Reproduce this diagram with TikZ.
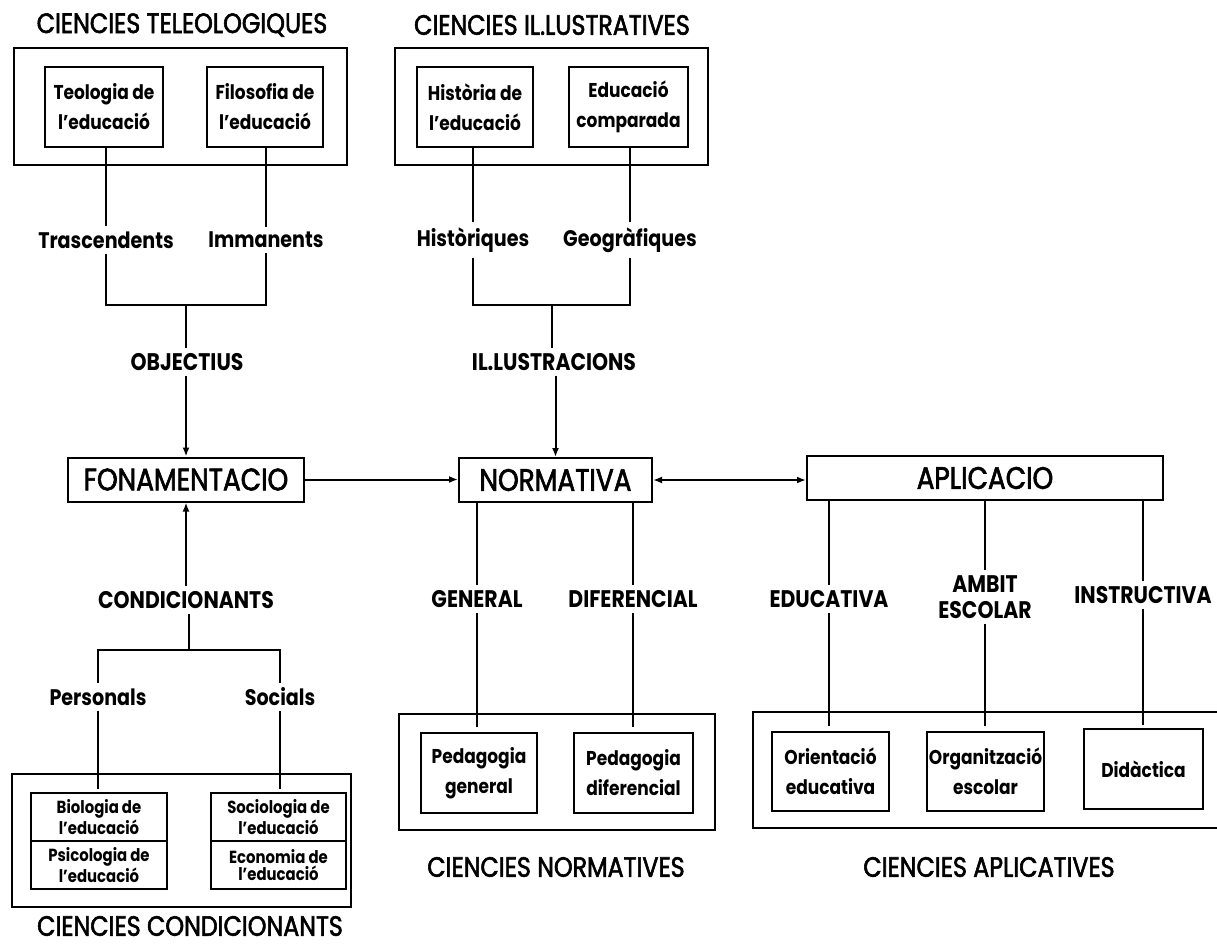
\documentclass[tikz,border=0pt]{standalone}
\usepackage{fontspec}
\setmainfont{Poppins}[FakeStretch=0.85]
\newfontfamily\medfont{Poppins}[FakeStretch=0.85,FakeBold=2]
\usetikzlibrary{arrows.meta}
\tikzset{
  ln/.style={line width=2pt},
  arr/.style={line width=2pt,-{Latex[length=9pt,width=7pt]}},
  darr/.style={line width=2pt,{Latex[length=9pt,width=7pt]}-{Latex[length=9pt,width=7pt]}},
  grp/.style={draw,line width=2.2pt,inner sep=0pt},
  ibox/.style={draw,line width=2pt,align=center,inner sep=0pt,font=\bfseries\fontsize{20}{30}\selectfont},
  sbox/.style={draw,line width=2pt,align=center,inner sep=0pt,minimum width=136pt,minimum height=48pt,font=\bfseries\fontsize{17.5}{17}\selectfont},
  title/.style={font=\medfont\fontsize{28}{30}\selectfont,inner sep=0pt},
  main/.style={draw,line width=2pt,inner sep=0pt,minimum height=44pt,font=\medfont\fontsize{31}{34}\selectfont},
  caplab/.style={font=\bfseries\fontsize{24}{26}\selectfont,inner sep=5pt,align=center},
  lowlab/.style={font=\bfseries\fontsize{22.5}{24}\selectfont,inner sep=5pt}
}
\begin{document}
\begin{tikzpicture}[x=1pt,y=-1pt]
\useasboundingbox (0,0) rectangle (1217,947);
% titles
\node[title] (t1) at (182,25) {CIENCIES TELEOLOGIQUES};
\node[title] (t2) at (552,25) {CIENCIES IL.LUSTRATIVES};
\node[title] (t3) at (190,926) {CIENCIES CONDICIONANTS};
\node[title] (t4) at (556,867) {CIENCIES NORMATIVES};
\node[title] (t5) at (989,867) {CIENCIES APLICATIVES};
% group boxes
\node[grp,minimum width=333pt,minimum height=117pt] (g1) at (180.5,106.5) {};
\node[grp,minimum width=313pt,minimum height=117pt] (g2) at (551.5,106.5) {};
\node[grp,minimum width=339pt,minimum height=133pt] (g3) at (181.5,840.5) {};
\node[grp,minimum width=316pt,minimum height=116pt] (g4) at (557,772) {};
\draw[line width=2.2pt] (1217,712) -- (753,712) -- (753,828) -- (1217,828);
% top inner boxes
\node[ibox,minimum width=118pt,minimum height=80pt] (teo) at (104,107) {Teologia de\\l'educació};
\node[ibox,minimum width=116pt,minimum height=80pt] (fil) at (265,107) {Filosofia de\\l'educació};
\node[ibox,minimum width=116pt,minimum height=80pt] (his) at (475,107) {Història de\\l'educació};
\node[ibox,minimum width=119pt,minimum height=80pt] (com) at (628.5,107) {Educació\\comparada};
% labels top
\node[lowlab] (tras) at (106,240) {Trascendents};
\node[lowlab] (imm) at (266,240) {Immanents};
\node[lowlab] (hist) at (473,240) {Històriques};
\node[lowlab] (geo) at (630,240) {Geogràfiques};
\coordinate (j1) at (186,305);
\coordinate (j2) at (551.5,305);
\node[caplab] (obj) at (187,362) {OBJECTIUS};
\node[caplab] (ill) at (554,362) {IL.LUSTRACIONS};
% main boxes
\node[main,minimum width=236pt] (fon) at (186,479.5) {FONAMENTACIO};
\node[main,minimum width=193pt] (norm) at (555.5,480) {NORMATIVA};
\node[main,minimum width=356pt] (apl) at (985,478) {APLICACIO};
% lower labels
\node[caplab] (cond) at (186,600) {CONDICIONANTS};
\coordinate (j3) at (189,650);
\node[lowlab] (pers) at (98,697) {Personals};
\node[lowlab] (soc) at (280,697) {Socials};
\node[caplab] (gen) at (477,599) {GENERAL};
\node[caplab] (dif) at (633,599) {DIFERENCIAL};
\node[caplab] (edu) at (829,599) {EDUCATIVA};
\node[caplab] (amb) at (985,597) {AMBIT\\ESCOLAR};
\node[caplab] (ins) at (1143,595) {INSTRUCTIVA};
% bottom inner boxes
\node[sbox] (bio) at (99,817) {Biologia de\\l'educació};
\node[sbox] (psi) at (99,865) {Psicologia de\\l'educació};
\node[sbox,minimum width=135pt] (soci) at (278.5,817) {Sociologia de\\l'educació};
\node[sbox,minimum width=135pt] (eco) at (278.5,865) {Economia de\\l'educació};
\node[ibox,minimum width=116pt,minimum height=80pt] (pg) at (479,773) {Pedagogia\\general};
\node[ibox,minimum width=119pt,minimum height=80pt] (pd) at (633.5,773) {Pedagogia\\diferencial};
\node[ibox,minimum width=117pt,minimum height=79pt] (ori) at (830.5,771.5) {Orientació\\educativa};
\node[ibox,minimum width=117pt,minimum height=79pt] (org) at (985.5,771.5) {Organització\\escolar};
\node[ibox,minimum width=119pt,minimum height=80pt] (did) at (1143.5,769) {Didàctica};
% connectors top
\draw[ln] (teo.south -| tras.north) -- (tras.north);
\draw[ln] (fil.south -| imm.north) -- (imm.north);
\draw[ln] (his.south -| hist.north) -- (hist.north);
\draw[ln] (com.south -| geo.north) -- (geo.north);
\draw[ln] (tras.south) |- (j1) -| (imm.south);
\draw[ln] (hist.south) |- (j2) -| (geo.south);
\draw[ln] (j1) -- (j1 |- obj.north);
\draw[ln] (j2) -- (j2 |- ill.north);
\draw[arr] (obj.south -| fon.north) -- (fon.north);
\draw[arr] (ill.south -| norm.north) -- (norm.north);
% main arrows
\draw[arr] (fon.east) -- (fon.east -| norm.west);
\draw[darr] (norm.east) -- (norm.east -| apl.west);
% condicionants
\draw[arr] (cond.north -| fon.south) -- (fon.south);
\draw[ln] (cond.south -| j3) -- (j3);
\draw[ln] (pers.north) |- (j3) -| (soc.north);
\draw[ln,shorten >=3pt] (pers.south) -- (pers.south |- bio.north);
\draw[ln,shorten >=3pt] (soc.south) -- (soc.south |- soci.north);
% normativa
\draw[ln] (norm.south -| gen.north) -- (gen.north);
\draw[ln] (norm.south -| dif.north) -- (dif.north);
\draw[ln,shorten >=5pt] (gen.south) -- (gen.south |- pg.north);
\draw[ln,shorten >=5pt] (dif.south) -- (dif.south |- pd.north);
% aplicacio
\draw[ln] (apl.south -| edu.north) -- (edu.north);
\draw[ln] (apl.south -| amb.north) -- (amb.north);
\draw[ln] (apl.south -| ins.north) -- (ins.north);
\draw[ln,shorten >=5pt] (edu.south) -- (edu.south |- ori.north);
\draw[ln,shorten >=5pt] (amb.south) -- (amb.south |- org.north);
\draw[ln,shorten >=3pt] (ins.south) -- (ins.south |- did.north);
\end{tikzpicture}
\end{document}
